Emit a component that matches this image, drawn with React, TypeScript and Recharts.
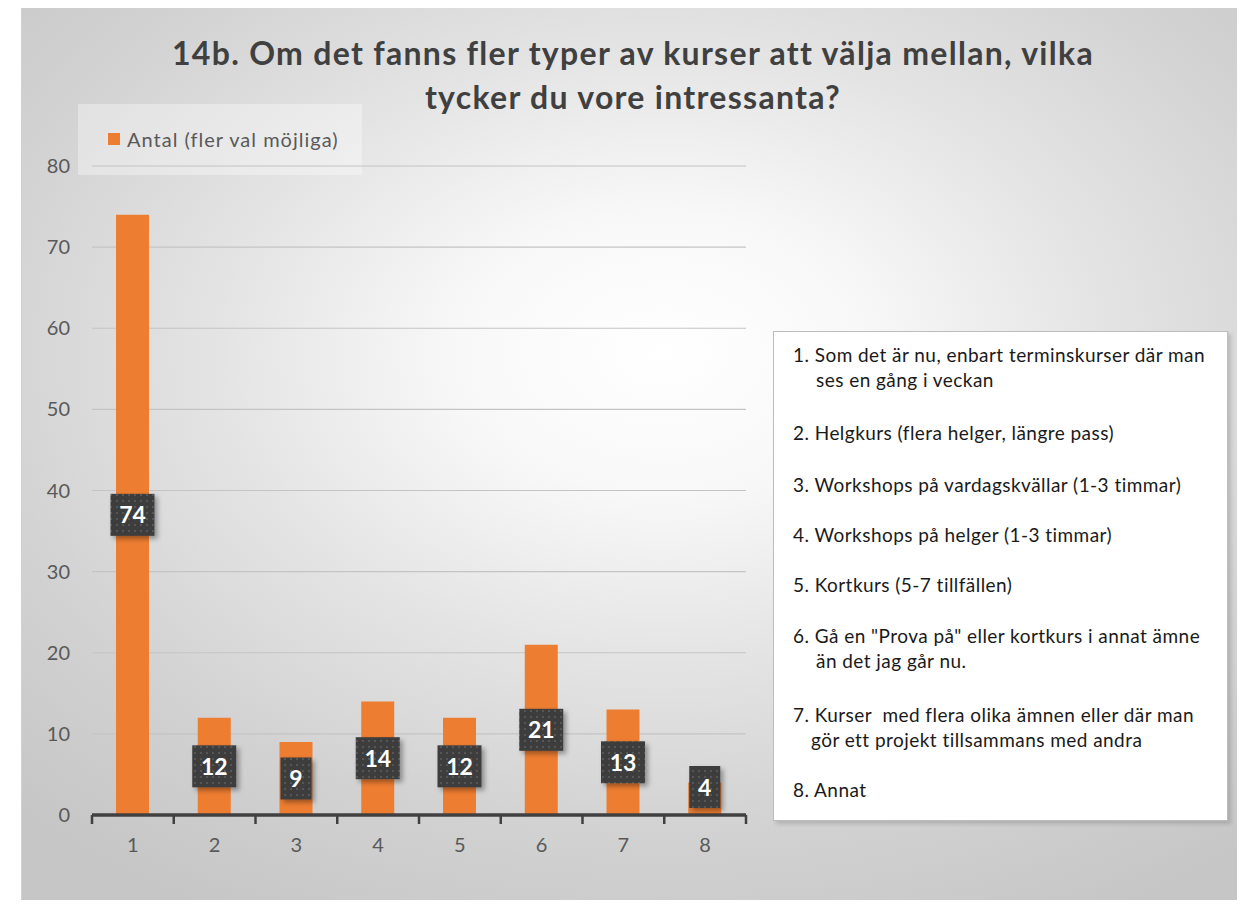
import React from 'react';
import { BarChart, Bar, XAxis, YAxis, CartesianGrid, LabelList } from 'recharts';

// survey answers, option number -> count
const categories = ['1', '2', '3', '4', '5', '6', '7', '8'];
const antal = [74, 12, 9, 14, 12, 21, 13, 4];
const yTicks = [0, 10, 20, 30, 40, 50, 60, 70, 80];

const titleLines = [
  '14b. Om det fanns fler typer av kurser att välja mellan, vilka',
  'tycker du vore intressanta?',
];
const seriesName = 'Antal (fler val möjliga)';

// explanation box, one entry per option (continuation lines indented)
const options = [
  ['1. Som det är nu, enbart terminskurser där man', 'ses en gång i veckan'],
  ['2. Helgkurs (flera helger, längre pass)'],
  ['3. Workshops på vardagskvällar (1-3 timmar)'],
  ['4. Workshops på helger (1-3 timmar)'],
  ['5. Kortkurs (5-7 tillfällen)'],
  ['6. Gå en "Prova på" eller kortkurs i annat ämne', 'än det jag går nu.'],
  ['7. Kurser  med flera olika ämnen eller där man', 'gör ett projekt tillsammans med andra'],
  ['8. Annat'],
];

const data = categories.map((c, i) => ({ name: c, antal: antal[i] }));

const FONT = 'Lato, "Open Sans", sans-serif';
const ORANGE = '#ED7D31';
const AXIS = '#404040';

const CHART_W = 770;
const CHART_H = 870;
const PLOT_LEFT = 92;
const PLOT_RIGHT = 746;
const HALF_BAND = (PLOT_RIGHT - PLOT_LEFT) / categories.length / 2;

const XTick = (props: any) => {
  const { x, y, payload, index } = props;
  return (
    <g>
      <line x1={x - HALF_BAND} x2={x - HALF_BAND} y1={y} y2={y + 9} stroke={AXIS} strokeWidth={2.5} />
      {index === categories.length - 1 && (
        <line x1={x + HALF_BAND} x2={x + HALF_BAND} y1={y} y2={y + 9} stroke={AXIS} strokeWidth={2.5} />
      )}
      <text x={x} y={y + 37} textAnchor="middle" fontSize={20} fill="#595959" fontFamily={FONT}>
        {payload.value}
      </text>
    </g>
  );
};

const ValueBox = (props: any) => {
  const { x, y, width, height, value } = props;
  const txt = String(value);
  const w = txt.length > 1 ? 44 : 31;
  const h = 42;
  const cx = x + width / 2;
  let cy = y + height / 2;
  const bottom = y + height - 7;
  if (cy + h / 2 > bottom) cy = bottom - h / 2;
  return (
    <g>
      <rect x={cx - w / 2} y={cy - h / 2} width={w} height={h} fill="url(#dots)" filter="url(#boxShadow)" />
      <text
        x={cx}
        y={cy + 8.5}
        textAnchor="middle"
        fontSize={23}
        fontWeight={700}
        fill="#ffffff"
        fontFamily={FONT}
      >
        {txt}
      </text>
    </g>
  );
};

export default function App() {
  return (
    <div style={{ position: 'relative', width: 1245, height: 908, margin: -8, overflow: 'hidden', background: '#fff', fontFamily: FONT }}>
      <div
        style={{
          position: 'absolute',
          left: 21,
          top: 6,
          width: 1230,
          height: 910,
          borderTop: '2px solid #e2e2e2',
          borderLeft: '1px solid #d0d0d0',
          background:
            'radial-gradient(ellipse 75% 70% at 52% 38%, #ffffff 0%, #f8f8f8 22%, #e4e4e4 48%, #d2d2d2 75%, #c6c6c6 100%)',
        }}
      />

      {titleLines.map((t, i) => (
        <div
          key={i}
          style={{
            position: 'absolute',
            left: 0,
            width: 1266,
            top: 33 + i * 44,
            textAlign: 'center',
            fontSize: 32,
            letterSpacing: 1.3,
            fontWeight: 700,
            color: '#404040',
            lineHeight: '40px',
            whiteSpace: 'nowrap',
          }}
        >
          {t}
        </div>
      ))}

      <div
        style={{
          position: 'absolute',
          left: 78,
          top: 104,
          width: 284,
          height: 71,
          background: 'rgba(255,255,255,0.35)',
        }}
      />
      <div style={{ position: 'absolute', left: 108, top: 133, width: 12, height: 12, background: ORANGE }} />
      <div
        style={{
          position: 'absolute',
          left: 127,
          top: 125,
          fontSize: 20,
          letterSpacing: 1,
          lineHeight: '28px',
          color: '#595959',
          whiteSpace: 'nowrap',
        }}
      >
        {seriesName}
      </div>

      <div style={{ position: 'absolute', left: 0, top: 0 }}>
        <BarChart
          width={CHART_W}
          height={CHART_H}
          data={data}
          margin={{ top: 166, right: CHART_W - PLOT_RIGHT, bottom: 0, left: 0 }}
        >
          <defs>
            <pattern id="dots" width="6" height="6" patternUnits="userSpaceOnUse">
              <rect width="6" height="6" fill="#3d3d3d" />
              <rect x="2" y="2" width="2" height="2" fill="#575757" />
            </pattern>
            <filter id="boxShadow" x="-30%" y="-30%" width="170%" height="170%">
              <feDropShadow dx="3" dy="3" stdDeviation="2.5" floodColor="#000" floodOpacity="0.35" />
            </filter>
          </defs>
          <CartesianGrid vertical={false} stroke="#c4c4c4" strokeWidth={1.2} />
          <XAxis
            dataKey="name"
            height={CHART_H - 815}
            axisLine={{ stroke: AXIS, strokeWidth: 3.5 }}
            tickLine={false}
            tickSize={0}
            tickMargin={0}
            interval={0}
            tick={<XTick />}
          />
          <YAxis
            width={PLOT_LEFT}
            domain={[0, 80]}
            ticks={yTicks}
            axisLine={false}
            tickLine={false}
            tickSize={6}
            tickMargin={16}
            tick={{ fontSize: 20, fill: '#595959', fontFamily: FONT }}
          />
          <Bar dataKey="antal" fill={ORANGE} barSize={33} isAnimationActive={false}>
            <LabelList dataKey="antal" content={<ValueBox />} />
          </Bar>
        </BarChart>
      </div>

      <div
        style={{
          position: 'absolute',
          left: 773,
          top: 331,
          width: 453,
          height: 488,
          background: '#ffffff',
          border: '1.5px solid #bdbdbd',
          boxShadow: '3px 3px 4px rgba(0,0,0,0.15)',
        }}
      />
      {options.map((lines, i) => {
        const tops = [342, 420, 472, 522, 572, 623, 702, 777];
        return lines.map((ln, j) => (
          <div
            key={`${i}-${j}`}
            style={{
              position: 'absolute',
              left: j === 0 ? 793 : i === 6 ? 811 : 816,
              top: tops[i] + j * 25,
              fontSize: 19,
              letterSpacing: 0.45,
              lineHeight: '26px',
              color: '#1a1a1a',
              whiteSpace: 'pre',
            }}
          >
            {ln}
          </div>
        ));
      })}
    </div>
  );
}
